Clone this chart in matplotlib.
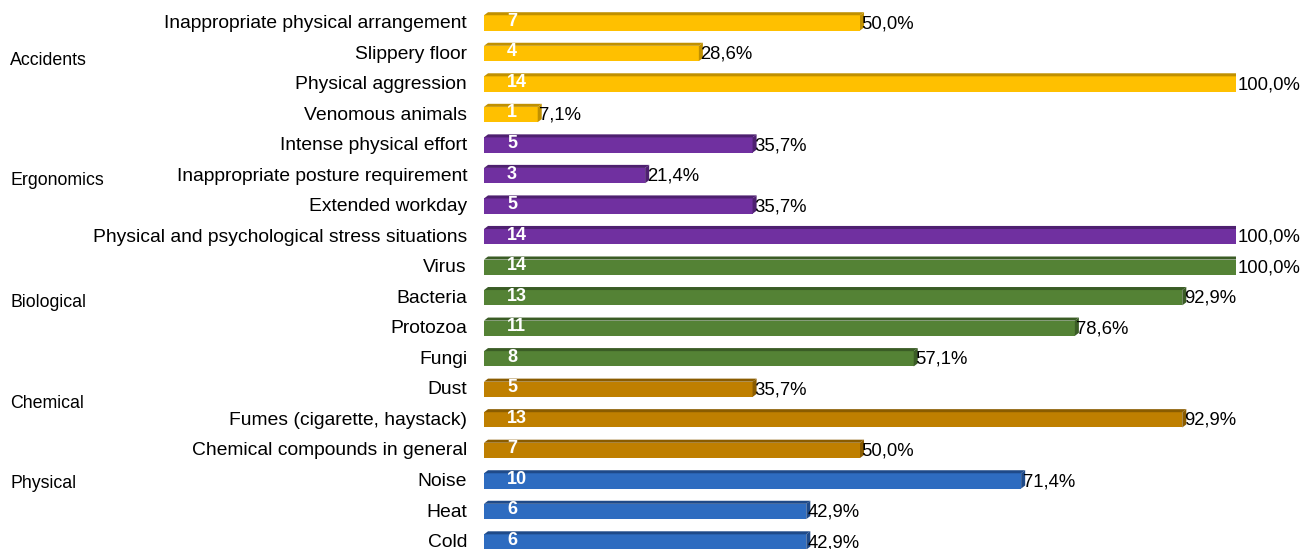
import matplotlib.pyplot as plt
from matplotlib.patches import Polygon, Rectangle

plt.rcParams['font.family'] = ['Liberation Sans', 'DejaVu Sans']

items = ['Inappropriate physical arrangement', 'Slippery floor', 'Physical aggression',
         'Venomous animals', 'Intense physical effort', 'Inappropriate posture requirement',
         'Extended workday', 'Physical and psychological stress situations', 'Virus',
         'Bacteria', 'Protozoa', 'Fungi', 'Dust', 'Fumes (cigarette, haystack)',
         'Chemical compounds in general', 'Noise', 'Heat', 'Cold']
counts = [7, 4, 14, 1, 5, 3, 5, 14, 14, 13, 11, 8, 5, 13, 7, 10, 6, 6]
groups = ['Accidents'] * 4 + ['Ergonomics'] * 4 + ['Biological'] * 4 + ['Chemical'] * 3 + ['Physical'] * 3
total = 14

group_names = ['Accidents', 'Ergonomics', 'Biological', 'Chemical', 'Physical']
group_label_y = [1.25, 5.2, 9.2, 12.5, 15.1]

front = {'Accidents': '#FFC000', 'Ergonomics': '#7030A0', 'Biological': '#548235',
         'Chemical': '#BF7F00', 'Physical': '#2E6CC0'}
dark = {'Accidents': '#C09000', 'Ergonomics': '#4E2070', 'Biological': '#3A5C25',
        'Chemical': '#8A5C00', 'Physical': '#1F4A88'}

fig = plt.figure(figsize=(13.01, 5.49), dpi=100)
ax = fig.add_axes([484 / 1301, 0, (1236 - 484) / 1301, 1])
ax.set_xlim(0, total)
ax.set_ylim(17.26, -0.72)
ax.axis('off')

px = total / 752  # data units per pixel in x
h = 0.5   # front face height
dx, dy = 0.075, 0.1  # depth

for i, (name, c, g) in enumerate(zip(items, counts, groups)):
    yb = i + 0.28
    yt = yb - h
    ax.add_patch(Rectangle((0, yt), c, h, facecolor=front[g], edgecolor='none'))
    ax.add_patch(Polygon([(0, yt), (dx, yt - dy), (c + dx, yt - dy), (c, yt)],
                         closed=True, facecolor=dark[g], edgecolor='none'))
    ax.add_patch(Polygon([(c, yt), (c + dx, yt - dy), (c + dx, yb - dy), (c, yb)],
                         closed=True, facecolor=dark[g], edgecolor='none'))
    ax.text(23 * px, i - 0.02, str(c), color='white', fontweight='bold', fontsize=13,
            ha='left', va='center')
    pct = f'{c / total * 100:.1f}%'.replace('.', ',')
    ax.text(c + 0.03, i + 0.05, pct, fontsize=13.3, ha='left', va='center', clip_on=False)
    ax.text(-17 * px, i + 0.05, name, fontsize=13.9, ha='right', va='center', clip_on=False)

for g, gy in zip(group_names, group_label_y):
    ax.text(-474 * px, gy, g, fontsize=12.8, ha='left', va='center', clip_on=False)

fig.savefig('out.png', dpi=100)
